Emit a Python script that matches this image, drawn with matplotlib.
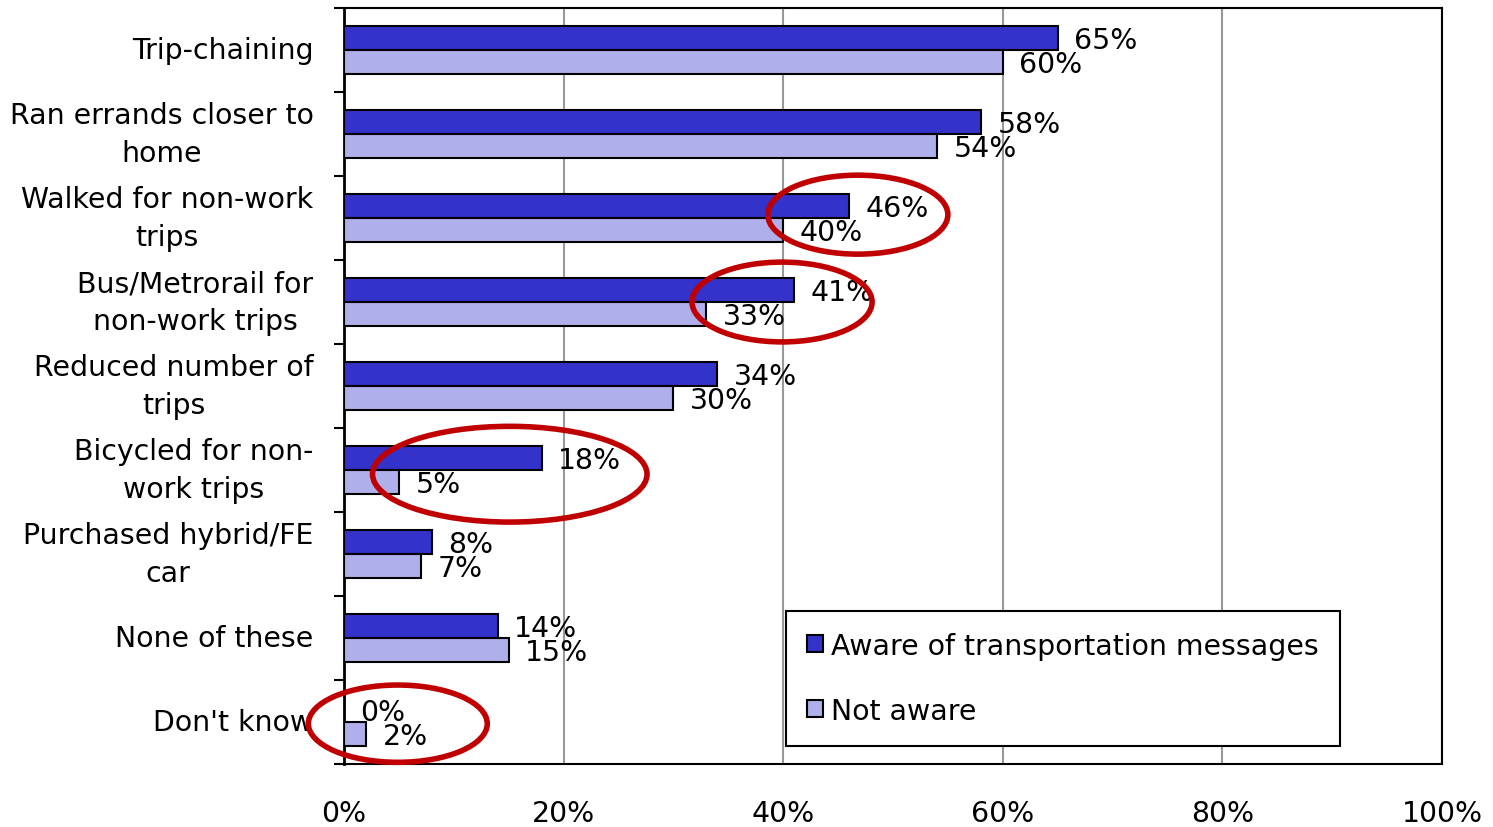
import numpy as np
import matplotlib
matplotlib.use("Agg")
import matplotlib.pyplot as plt
from matplotlib.patches import Ellipse

categories = ["Trip-chaining", "Ran errands closer to\nhome", "Walked for non-work\ntrips",
              "Bus/Metrorail for\nnon-work trips", "Reduced number of\ntrips",
              "Bicycled for non-\nwork trips", "Purchased hybrid/FE\ncar", "None of these",
              "Don't know"]
aware = [65, 58, 46, 41, 34, 18, 8, 14, 0]
not_aware = [60, 54, 40, 33, 30, 5, 7, 15, 2]
x_ticks = [0, 20, 40, 60, 80, 100]

# circled highlights (center x %, center y category, width %, height)
circles_x = [46.8, 39.9, 15.1, 4.9]
circles_y = [1.96, 3.0, 5.05, 8.02]
circles_w = [16.4, 16.4, 25.0, 16.3]
circles_h = [0.94, 0.95, 1.14, 0.92]

plt.rcParams['font.family'] = ['DejaVu Sans']
fs = 20.4

fig = plt.figure(figsize=(14.93, 8.28), dpi=100)
ax = fig.add_axes([0.2304, 0.0761, 0.7354, 0.913])

y = np.arange(len(categories))
h = 0.286
dark = "#3333CC"
light = "#AFAFEB"
b1 = ax.barh(y - h / 2, aware, height=h, color=dark, edgecolor="black", linewidth=1.5,
             label="Aware of transportation messages", zorder=3)
b2 = ax.barh(y + h / 2, not_aware, height=h, color=light, edgecolor="black", linewidth=1.5,
             label="Not aware", zorder=3)

for yi, v in zip(y, aware):
    ax.text(v + 1.5, yi - h / 2 + 0.02, f"{v}%", va="center", ha="left", fontsize=fs, zorder=5)
for yi, v in zip(y, not_aware):
    ax.text(v + 1.5, yi + h / 2 + 0.02, f"{v}%", va="center", ha="left", fontsize=fs, zorder=5)

for cx, cy, w, hh in zip(circles_x, circles_y, circles_w, circles_h):
    e = Ellipse((cx, cy), w, hh, fill=False, edgecolor="#C00000", linewidth=4,
                clip_on=False, zorder=6)
    ax.add_patch(e)

ax.set_xlim(0, 100)
ax.set_ylim(len(categories) - 0.5, -0.5)
ax.set_xticks(x_ticks)
ax.set_xticklabels([f"{t}%" for t in x_ticks], fontsize=fs)
ax.tick_params(axis="x", length=0, pad=25)
ax.set_yticks(y)
ax.set_yticklabels(categories, fontsize=fs, multialignment="center", linespacing=1.45,
                   va="center")
ax.tick_params(axis="y", length=0, pad=22)
ax.set_yticks(np.arange(len(categories) + 1) - 0.5, minor=True)
ax.tick_params(axis="y", which="minor", length=7, width=1.5, direction="out")

ax.grid(axis="x", color="#999999", linewidth=1.5, zorder=0)
ax.set_axisbelow(True)
for s in ax.spines.values():
    s.set_linewidth(1.5)
ax.spines["left"].set_linewidth(2)

leg = ax.legend(handles=[b1, b2], loc="lower left", bbox_to_anchor=(0.4026, 0.0238),
                fontsize=fs, frameon=True, fancybox=False, edgecolor="black", framealpha=1,
                handlelength=0.55, handleheight=0.55, handletextpad=0.3,
                labelspacing=1.3, borderpad=0.75, borderaxespad=0)
leg.get_frame().set_linewidth(1.5)
leg.set_zorder(4)

fig.savefig("out.png", dpi=100)
